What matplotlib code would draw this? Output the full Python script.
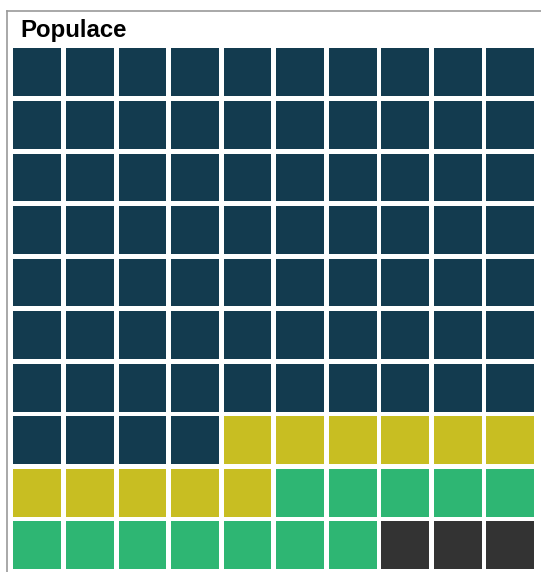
import matplotlib.pyplot as plt
from matplotlib.patches import Rectangle
from matplotlib.lines import Line2D

# waffle data
categories = ["A", "B", "C", "D"]
counts = [74, 11, 12, 3]
colors = ["#133b4f", "#c8be22", "#2eb673", "#333333"]
title = "Populace"

n_rows = 10
n_cols = 10
gap = 0.09

W, H = 541, 572
fig = plt.figure(figsize=(W / 100, H / 100), dpi=100)
fig.patch.set_facecolor("white")

# frame lines (top and left)
fig.add_artist(Line2D([7 / W, 1], [1 - 11 / H, 1 - 11 / H], color="#9a9a9a", lw=1.2))
fig.add_artist(Line2D([7 / W, 7 / W], [0, 1 - 11 / H], color="#9a9a9a", lw=1.2))

fig.text(20 / W, 1 - 37 / H, title, fontsize=17.3, fontweight="bold",
         family=["Liberation Sans", "DejaVu Sans"], va="baseline", ha="left")

ax = fig.add_axes([11 / W, 0.3 / H, 525.7 / W, 525.7 / H])
ax.set_xlim(0, n_cols)
ax.set_ylim(n_rows, 0)
ax.axis("off")

# fill cells row by row, top-left first
cell_colors = []
for c, n in zip(colors, counts):
    cell_colors += [c] * n

for k, c in enumerate(cell_colors):
    r = k // n_cols
    col = k % n_cols
    ax.add_patch(Rectangle((col + gap / 2, r + gap / 2), 1 - gap, 1 - gap,
                           facecolor=c, edgecolor="none"))

fig.savefig("out.png", dpi=100, facecolor="white")
